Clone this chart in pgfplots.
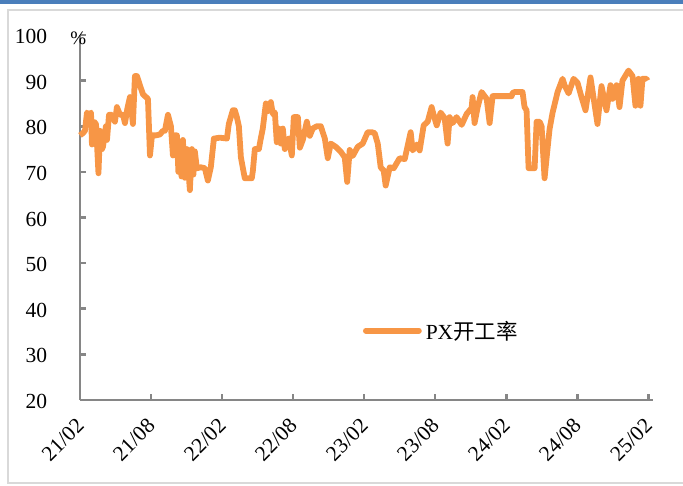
\documentclass[border=0pt]{standalone}
\usepackage{pgfplots}
\pgfplotsset{compat=1.18}
\usepackage{fontspec}
\setmainfont{Liberation Serif}
\newfontfamily\cjk{Noto Sans CJK SC}
\definecolor{pxorange}{HTML}{F79646}
\definecolor{axgray}{HTML}{868686}
\definecolor{framegray}{HTML}{D9D9D9}
\definecolor{topblue}{HTML}{4A7EBB}

\begin{document}
\begin{tikzpicture}
\begin{axis}[
  at={(0pt,0pt)}, anchor=south west,
  scale only axis, width=573pt, height=365pt,
  xmin=0, xmax=48.4, ymin=20, ymax=100,
  axis x line*=bottom, axis y line*=left,
  axis line style={-, draw=axgray, line width=2.6pt},
  tick align=inside, major tick length=5.5pt,
  tick style={draw=axgray, line width=2.6pt},
  xtick={0,6,...,48},
  xticklabels={21/02,21/08,22/02,22/08,23/02,23/08,24/02,24/08,25/02},
  ytick={20,30,...,100},
  /pgf/number format/assume math mode=true,
  tick label style={font=\fontsize{21.5}{24}\selectfont, inner sep=0pt},
  yticklabel style={anchor=east, xshift=-32.7pt, yshift=-1.5pt},
  xticklabel style={xshift=-5pt, yshift=-17pt, rotate=45, anchor=north east},
  clip=false,
  legend style={draw=none, fill=none, inner sep=0pt,
    at={(0.4935,0.19)}, anchor=west,
    font=\fontsize{21.5}{24}\selectfont,
    nodes={inner sep=0pt},
    /tikz/every odd column/.append style={column sep=4pt}},
  legend image code/.code={\draw[#1, line cap=round] (0pt,0pt) -- (53pt,0pt);},
]
\addplot[color=pxorange, line width=5.8pt, line join=round] coordinates {
(0,78) (0.25,78.5) (0.42,79) (0.59,83) (0.76,82.5) (0.93,83) (1.01,76)
(1.18,81) (1.35,80.5) (1.56,69.7) (1.69,79) (1.86,75) (1.94,75.5)
(2.19,80) (2.28,77) (2.45,82.5) (2.70,82.5) (2.95,81) (3.12,84.2)
(3.38,82.5) (3.63,82.5) (3.80,80.7) (4.01,84) (4.22,86.4) (4.47,80.5)
(4.64,91) (4.81,91) (5.06,89) (5.32,87) (5.57,86.4) (5.74,86) (5.91,73.6)
(6.08,78) (6.41,78) (6.75,78.2) (7.00,79) (7.17,79) (7.43,82.5) (7.68,80)
(7.85,73.6) (8.02,78) (8.19,78) (8.31,70) (8.44,76) (8.57,69) (8.69,77)
(8.86,68.7) (9.03,75) (9.28,66) (9.45,75) (9.58,69.4) (9.70,74.5)
(9.87,70.8) (10.21,71) (10.55,70.8) (10.80,68.1) (11.05,71) (11.31,77.3)
(11.81,77.5) (12.41,77.3) (12.57,80.5) (12.91,83.5) (13.08,83.5)
(13.25,82) (13.42,80) (13.59,73.2) (13.76,70.8) (13.92,68.6) (14.51,68.6)
(14.60,70.2) (14.77,75) (15.11,75) (15.27,77.3) (15.44,79.5) (15.70,85)
(15.86,83.3) (16.12,85.3) (16.29,82.7) (16.46,83) (16.62,76.5)
(16.79,79.5) (16.96,76.2) (17.13,79.5) (17.30,75) (17.64,77.3)
(17.89,73.6) (18.06,82) (18.40,82) (18.57,75.3) (18.82,77) (19.16,81)
(19.41,77.9) (19.66,79.5) (20.00,80) (20.34,80) (20.68,77.3) (20.93,73)
(21.18,76.2) (21.60,75.5) (22.03,74.4) (22.36,73.2) (22.57,67.8)
(22.78,74.8) (23.04,73.5) (23.46,75.5) (23.88,76.2) (24.30,78.7)
(24.64,78.7) (24.89,78.5) (25.15,76.2) (25.40,71) (25.65,70.3) (25.82,67)
(26.16,71) (26.50,70.8) (27.00,73) (27.43,72.8) (27.59,74.7) (27.93,78.7)
(28.10,74.7) (28.44,76) (28.69,74.7) (29.03,80.2) (29.37,81) (29.70,84.2)
(29.87,82.5) (30.13,80.2) (30.46,83) (30.80,81.8) (31.05,76.2) (31.22,82)
(31.48,80.7) (31.81,82) (32.24,80.3) (32.66,82.7) (33.08,84) (33.16,86.4)
(33.33,80.7) (33.59,84.2) (33.92,87.5) (34.35,86) (34.60,80.7)
(34.85,86.6) (35.02,86.6) (36.46,86.6) (36.54,87.3) (36.71,87.5)
(37.38,87.5) (37.55,84.2) (37.72,83.5) (37.89,70.8) (38.40,70.8)
(38.57,81) (38.82,81) (38.99,80) (39.24,68.6) (39.41,73) (39.66,79.3)
(39.92,83) (40.34,87.5) (40.76,90.4) (40.93,89) (41.27,87.2) (41.69,90.4)
(42.03,89.5) (42.36,86.4) (42.70,83.5) (43.12,90.7) (43.71,80.5)
(44.05,88.8) (44.47,83.5) (44.81,89) (44.98,86) (45.32,89) (45.57,84.2)
(45.82,90) (46.33,92.2) (46.67,91) (46.92,84.5) (47.17,90.4) (47.34,84.5)
(47.51,90.4) (47.85,90.4) (47.93,90)
};
\addlegendentry{PX{\cjk 开工率}}
\end{axis}
% percent sign at the top of the value axis
\node[font=\fontsize{19}{19}\selectfont, inner sep=0pt] at (-1.7pt,361.7pt) {\%};
% outer frame and top bar
\fill[topblue] (-80pt,395.5pt) rectangle (603pt,399.5pt);
\draw[framegray, line width=2pt] (610pt,390pt) -- (-72pt,390pt) -- (-72pt,-83pt) -- (610pt,-83pt);
\pgfresetboundingbox
\path[use as bounding box] (-80pt,-86pt) rectangle (603pt,400pt);
\end{tikzpicture}
\end{document}
